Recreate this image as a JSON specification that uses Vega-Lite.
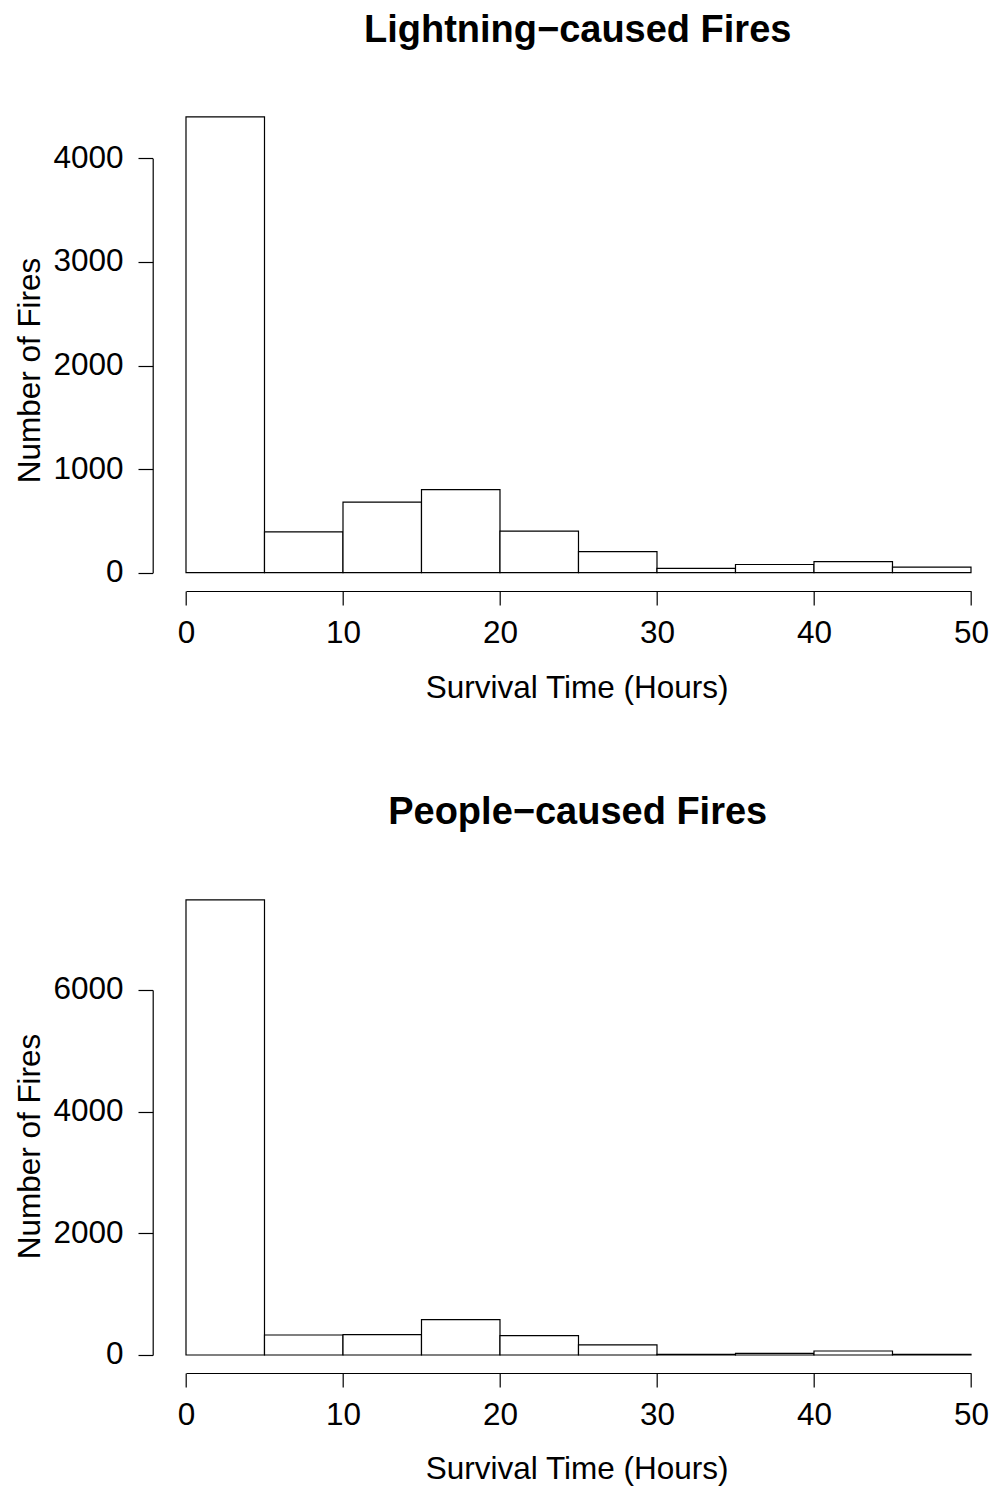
{
  "$schema": "https://vega.github.io/schema/vega-lite/v6.json",
  "background": "white",
  "autosize": {"type": "pad"},
  "padding": {"left": 14.7, "top": 11, "right": 0, "bottom": 0},
  "config": {
    "font": "Liberation Sans",
    "view": {"stroke": null},
    "axis": {
      "grid": false,
      "domainColor": "black",
      "domainWidth": 1.2,
      "tickColor": "black",
      "tickWidth": 1.2,
      "labelColor": "black",
      "labelFont": "Liberation Sans",
      "labelFontSize": 31.5,
      "labelOverlap": false,
      "labelFlush": false,
      "titleColor": "black",
      "titleFont": "Liberation Sans",
      "titleFontSize": 31.5,
      "titleFontWeight": "normal"
    }
  },
  "datasets": {
    "lightning": [
      {"start": 0, "end": 5, "count": 4400},
      {"start": 5, "end": 10, "count": 395},
      {"start": 10, "end": 15, "count": 682},
      {"start": 15, "end": 20, "count": 801},
      {"start": 20, "end": 25, "count": 402},
      {"start": 25, "end": 30, "count": 203},
      {"start": 30, "end": 35, "count": 42},
      {"start": 35, "end": 40, "count": 79},
      {"start": 40, "end": 45, "count": 106},
      {"start": 45, "end": 50, "count": 54}
    ],
    "people": [
      {"start": 0, "end": 5, "count": 7480},
      {"start": 5, "end": 10, "count": 329},
      {"start": 10, "end": 15, "count": 334},
      {"start": 15, "end": 20, "count": 581},
      {"start": 20, "end": 25, "count": 318},
      {"start": 25, "end": 30, "count": 166},
      {"start": 30, "end": 35, "count": 12},
      {"start": 35, "end": 40, "count": 27},
      {"start": 40, "end": 45, "count": 66},
      {"start": 45, "end": 50, "count": 10}
    ]
  },
  "bounds": "flush",
  "spacing": 292,
  "vconcat": [
    {
      "title": {"text": "Lightning−caused Fires", "font": "Liberation Sans", "fontSize": 38, "fontWeight": "bold", "color": "black", "anchor": "middle", "frame": "group", "baseline": "alphabetic", "offset": 21.3, "dx": 10},
      "width": 830,
      "height": 490,
      "data": {"name": "lightning"},
      "mark": {"type": "rect", "fill": "white", "stroke": "black", "strokeWidth": 1.2},
      "encoding": {
        "x": {"field": "start", "type": "quantitative",
          "scale": {"domain": [0, 50], "range": [33.3, 818.3], "nice": false, "zero": false},
          "axis": {"values": [0, 10, 20, 30, 40, 50], "format": "d", "title": "Survival Time (Hours)", "tickSize": 14, "labelBaseline": "alphabetic", "labelPadding": 37.5, "titleBaseline": "alphabetic", "titleAlign": "center", "titleX": 424, "titleY": 106}},
        "x2": {"field": "end"},
        "y": {"field": "count", "type": "quantitative",
          "scale": {"domain": [0, 4000], "range": [471.7, 57.3], "nice": false, "zero": false},
          "axis": {"values": [0, 1000, 2000, 3000, 4000], "format": "d", "title": "Number of Fires", "tickSize": 14.7, "labelPadding": 15, "labelAngle": 0, "labelAlign": "right", "labelBaseline": "middle", "titleAngle": -90, "titleBaseline": "alphabetic", "titleAlign": "center", "titleX": -113, "titleY": 269}},
        "y2": {"datum": 0}
      }
    },
    {
      "title": {"text": "People−caused Fires", "font": "Liberation Sans", "fontSize": 38, "fontWeight": "bold", "color": "black", "anchor": "middle", "frame": "group", "baseline": "alphabetic", "offset": 21.3, "dx": 10},
      "width": 830,
      "height": 490,
      "data": {"name": "people"},
      "mark": {"type": "rect", "fill": "white", "stroke": "black", "strokeWidth": 1.2},
      "encoding": {
        "x": {"field": "start", "type": "quantitative",
          "scale": {"domain": [0, 50], "range": [33.3, 818.3], "nice": false, "zero": false},
          "axis": {"values": [0, 10, 20, 30, 40, 50], "format": "d", "title": "Survival Time (Hours)", "tickSize": 14, "labelBaseline": "alphabetic", "labelPadding": 37.5, "titleBaseline": "alphabetic", "titleAlign": "center", "titleX": 424, "titleY": 106}},
        "x2": {"field": "end"},
        "y": {"field": "count", "type": "quantitative",
          "scale": {"domain": [0, 6000], "range": [472, 107], "nice": false, "zero": false},
          "axis": {"values": [0, 2000, 4000, 6000], "format": "d", "title": "Number of Fires", "tickSize": 14.7, "labelPadding": 15, "labelAngle": 0, "labelAlign": "right", "labelBaseline": "middle", "titleAngle": -90, "titleBaseline": "alphabetic", "titleAlign": "center", "titleX": -113, "titleY": 263}},
        "y2": {"datum": 0}
      }
    }
  ]
}
